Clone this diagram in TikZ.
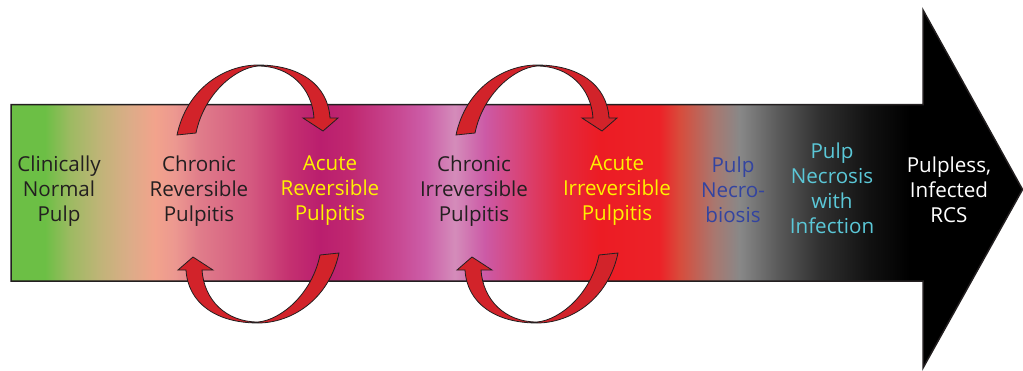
\documentclass[tikz,border=0pt]{standalone}
\usepackage{fontspec}
\setmainfont{Open Sans}

% colours of the stage band
\definecolor{cA}{HTML}{6CBF45}
\definecolor{cB}{HTML}{9DBA62}
\definecolor{cC}{HTML}{C0B478}
\definecolor{cD}{HTML}{DCAC88}
\definecolor{cE}{HTML}{F2A38C}
\definecolor{cF}{HTML}{EC9890}
\definecolor{cG}{HTML}{E07C8A}
\definecolor{cH}{HTML}{D45A80}
\definecolor{cI}{HTML}{C43070}
\definecolor{cJ}{HTML}{BA1E6E}
\definecolor{cK}{HTML}{C02870}
\definecolor{cL}{HTML}{C84A94}
\definecolor{cM}{HTML}{CC5EA8}
\definecolor{cN}{HTML}{D48CBA}
\definecolor{cO}{HTML}{CC5AA6}
\definecolor{cP}{HTML}{D84478}
\definecolor{cQ}{HTML}{E42A40}
\definecolor{cR}{HTML}{EC1C24}
\definecolor{cS}{HTML}{EC2228}
\definecolor{cT}{HTML}{D84C3C}
\definecolor{cU}{HTML}{A87870}
\definecolor{cV}{HTML}{888888}
\definecolor{cW}{HTML}{585858}
\definecolor{cX}{HTML}{303030}
\definecolor{cY}{HTML}{111111}
\definecolor{cZ}{HTML}{000000}

\definecolor{outline}{HTML}{231F20}
\definecolor{bendred}{HTML}{D2232A}
\definecolor{txtdark}{HTML}{231F20}
\definecolor{txtyellow}{HTML}{FFF200}
\definecolor{txtblue}{HTML}{3344A0}
\definecolor{txtcyan}{HTML}{5BC8D8}

% left-to-right colour ramp; 25bp..75bp spans the filled path
\pgfdeclarehorizontalshading{stageramp}{100bp}{%
  color(0bp)=(cA); color(25bp)=(cA); color(26.68bp)=(cA);
  color(27.92bp)=(cB); color(29.40bp)=(cC); color(30.88bp)=(cD);
  color(32.11bp)=(cE); color(33.10bp)=(cF); color(34.34bp)=(cG);
  color(36.81bp)=(cH); color(38.78bp)=(cI); color(40.27bp)=(cJ);
  color(41.75bp)=(cK); color(44.22bp)=(cL); color(45.45bp)=(cM);
  color(46.94bp)=(cN); color(48.42bp)=(cO); color(50.15bp)=(cP);
  color(52.12bp)=(cQ); color(54.10bp)=(cR); color(57.07bp)=(cS);
  color(58.05bp)=(cT); color(59.78bp)=(cU); color(61.02bp)=(cV);
  color(62.99bp)=(cW); color(64.97bp)=(cX); color(67.44bp)=(cY);
  color(69.42bp)=(cZ); color(100bp)=(cZ)}

\tikzset{
  stage/.style={align=center, inner sep=0pt,
    font=\fontsize{20.6}{25}\selectfont},
  bendfill/.style={fill=bendred, draw=outline, line width=0.8pt,
    line join=miter},
  bendarrow/.pic={
    \path[bendfill]
      (-81,-59) .. controls (-71,-106) and (-33,-129) .. (0,-129)
      .. controls (42,-129) and (70,-109) .. (72,-76)
      -- (80,-76) -- (65,-63) -- (45,-76) -- (56,-76)
      .. controls (54,-106) and (32,-128) .. (0,-128)
      .. controls (-23,-126) and (-54,-100) .. (-62,-61) -- cycle;
  }
}

\begin{document}
\begin{tikzpicture}[x=1pt,y=-1pt]
\useasboundingbox (0,0) rectangle (1023,370);

% the progression arrow
\shadedraw[shading=stageramp, draw=outline, line width=1.5pt, line join=miter]
  (11,104.5) -- (923,104.5) -- (923,10) -- (1022.5,189.5)
  -- (923,368) -- (923,281) -- (11,281) -- cycle;

% transitions between the reversible and irreversible stages
\pic at (258,194) {bendarrow};
\pic[rotate=180] at (258,194) {bendarrow};
\pic at (537,194) {bendarrow};
\pic[rotate=180] at (537,194) {bendarrow};

% stage labels
\node[stage, text=txtdark]   (normal)  at (59,191)  {Clinically\\Normal\\Pulp};
\node[stage, text=txtdark]   (chrrev)  at (199,191) {Chronic\\Reversible\\Pulpitis};
\node[stage, text=txtyellow] (acurev)  at (330,191) {Acute\\Reversible\\Pulpitis};
\node[stage, text=txtdark]   (chrirr)  at (474,191) {Chronic\\Irreversible\\Pulpitis};
\node[stage, text=txtyellow] (acuirr)  at (617,191) {Acute\\Irreversible\\Pulpitis};
\node[stage, text=txtblue]   (necrob)  at (733,190) {Pulp\\Necro-\\biosis};
\node[stage, text=txtcyan]   (necinf)  at (832,188) {Pulp\\Necrosis\\with\\Infection};
\node[stage, text=white]     (pulpless) at (949,190) {Pulpless,\\Infected\\RCS};
\end{tikzpicture}
\end{document}
